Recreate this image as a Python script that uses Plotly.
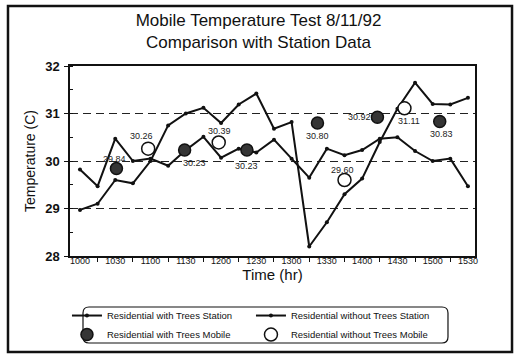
import plotly.graph_objects as go

# ---------------- data ----------------
station_times = ["1000", "1015", "1030", "1045", "1100", "1115", "1130", "1145", "1200", "1215", "1230", "1245",
                 "1300", "1315", "1330", "1345", "1400", "1415", "1430", "1445", "1500", "1515", "1530"]
with_trees_station = [29.82, 29.47, 30.47, 30.00, 30.05, 29.90, 30.23, 30.51, 30.07, 30.26, 30.18, 30.45,
                      30.05, 29.65, 30.26, 30.12, 30.23, 30.47, 30.50, 30.21, 30.00, 30.05, 29.47]
without_trees_station = [28.97, 29.10, 29.60, 29.53, 30.00, 30.75, 31.00, 31.12, 30.80, 31.19, 31.42, 30.68,
                         30.82, 28.20, 28.71, 29.30, 29.63, 30.40, 31.10, 31.65, 31.20, 31.19, 31.33]
with_trees_mobile_times = ["1031", "1129", "1222", "1322", "1413", "1506"]
with_trees_mobile = [29.84, 30.23, 30.23, 30.80, 30.92, 30.83]
without_trees_mobile_times = ["1058", "1158", "1345", "1436"]
without_trees_mobile = [30.26, 30.39, 29.60, 31.11]
tick_labels = ["1000", "1030", "1100", "1130", "1200", "1230", "1300", "1330", "1400", "1430", "1500", "1530"]
y_ticks = [28, 29, 30, 31, 32]

# label offsets (style)
with_label_shift = [(-2, 10), (10, -13), (0, -16), (0, -13), (-18, 0), (2, -12)]
without_label_shift = [(-7, 13), (1, 11), (-2, 10), (5, -13)]


def minutes(t):
    return (int(t[:2]) - 10) * 60 + int(t[2:])


FONT = "Arial, Liberation Sans, sans-serif"

fig = go.Figure()
fig.add_trace(go.Scatter(
    x=[minutes(t) for t in station_times], y=with_trees_station,
    mode="lines+markers", name="Residential with Trees Station",
    line=dict(color="#111111", width=2), marker=dict(color="#111111", size=4)))
fig.add_trace(go.Scatter(
    x=[minutes(t) for t in station_times], y=without_trees_station,
    mode="lines+markers", name="Residential without Trees Station",
    line=dict(color="#111111", width=2), marker=dict(color="#111111", size=4)))
fig.add_trace(go.Scatter(
    x=[minutes(t) for t in with_trees_mobile_times], y=with_trees_mobile,
    mode="markers", name="Residential with Trees Mobile",
    marker=dict(color="#353535", size=12, line=dict(color="#111111", width=1.5))))
fig.add_trace(go.Scatter(
    x=[minutes(t) for t in without_trees_mobile_times], y=without_trees_mobile,
    mode="markers", name="Residential without Trees Mobile",
    marker=dict(color="white", size=13, line=dict(color="#111111", width=1.5))))

annotations = []
for t, v, (dx, dy) in zip(with_trees_mobile_times, with_trees_mobile, with_label_shift):
    annotations.append(dict(x=minutes(t), y=v, text=f"{v:.2f}", showarrow=False,
                            xshift=dx, yshift=dy, font=dict(size=9, color="#222222", family=FONT)))
for t, v, (dx, dy) in zip(without_trees_mobile_times, without_trees_mobile, without_label_shift):
    annotations.append(dict(x=minutes(t), y=v, text=f"{v:.2f}", showarrow=False,
                            xshift=dx, yshift=dy, font=dict(size=9, color="#222222", family=FONT)))

# frame geometry in paper coords (plot area 70..475 x, 66..256 y)
lx0, lx1, ly_top, ly_bot = 0.0321, 0.9333, -0.2684, -0.4579
rx, ry = 0.0148, 0.0316
legend_path = (f"M {lx0+rx},{ly_top} L {lx1-rx},{ly_top} Q {lx1},{ly_top} {lx1},{ly_top-ry} "
               f"L {lx1},{ly_bot+ry} Q {lx1},{ly_bot} {lx1-rx},{ly_bot} "
               f"L {lx0+rx},{ly_bot} Q {lx0},{ly_bot} {lx0},{ly_bot+ry} "
               f"L {lx0},{ly_top-ry} Q {lx0},{ly_top} {lx0+rx},{ly_top} Z")

shapes = [
    dict(type="rect", xref="paper", yref="paper", x0=-0.1531, x1=1.0914, y0=-0.5053, y1=1.3158,
         line=dict(color="#111111", width=2.5), layer="below"),
    dict(type="path", xref="paper", yref="paper", path=legend_path,
         line=dict(color="#111111", width=1.2)),
]

fig.update_layout(
    width=517, height=358,
    margin=dict(l=70, r=42, t=66, b=102, autoexpand=False),
    paper_bgcolor="white", plot_bgcolor="white",
    font=dict(family=FONT, color="#111111"),
    title=dict(text="Mobile Temperature Test 8/11/92<br>Comparison with Station Data",
               x=0.5, xanchor="center", xref="container", y=1 - 25.5 / 358, yanchor="middle",
               yref="container",
               font=dict(size=17, family=FONT, color="#111111")),
    xaxis=dict(
        range=[-8.5, 336], tickmode="array",
        tickvals=[minutes(t) for t in tick_labels], ticktext=tick_labels,
        ticks="", tickfont=dict(size=9, family=FONT), ticklabelstandoff=-5,
        minor=dict(tick0=15, dtick=30, ticks="outside", ticklen=4, tickcolor="#111111", showgrid=False),
        showline=True, linecolor="#111111", linewidth=1.5, mirror=True,
        showgrid=False, zeroline=False, automargin=False,
        title=dict(text="Time (hr)", font=dict(size=15, family=FONT), standoff=4),
    ),
    yaxis=dict(
        range=[28, 32], tickmode="array", tickvals=y_ticks,
        ticks="outside", ticklen=4, tickcolor="#111111",
        tickfont=dict(size=13, family=FONT, weight="bold"),
        ticklabelstandoff=2,
        minor=dict(dtick=0.5, ticks="inside", ticklen=3, tickcolor="#111111", showgrid=False),
        showline=True, linecolor="#111111", linewidth=1.5, mirror=True,
        showgrid=True, gridcolor="#222222", gridwidth=1.3, griddash="8px,5px",
        zeroline=False, automargin=False,
        title=dict(text="Temperature (C)", font=dict(size=14, family=FONT), standoff=6),
    ),
    legend=dict(orientation="h", x=-0.0075, xanchor="left", y=-0.237, yanchor="top",
                entrywidth=139, font=dict(size=9.5, family=FONT), bgcolor="rgba(0,0,0,0)",
                itemwidth=30, tracegroupgap=0),
    showlegend=True,
    annotations=annotations,
    shapes=shapes,
)

fig.write_html("out.html", config={"displayModeBar": False},
               post_script="document.body.style.margin='0px';")
